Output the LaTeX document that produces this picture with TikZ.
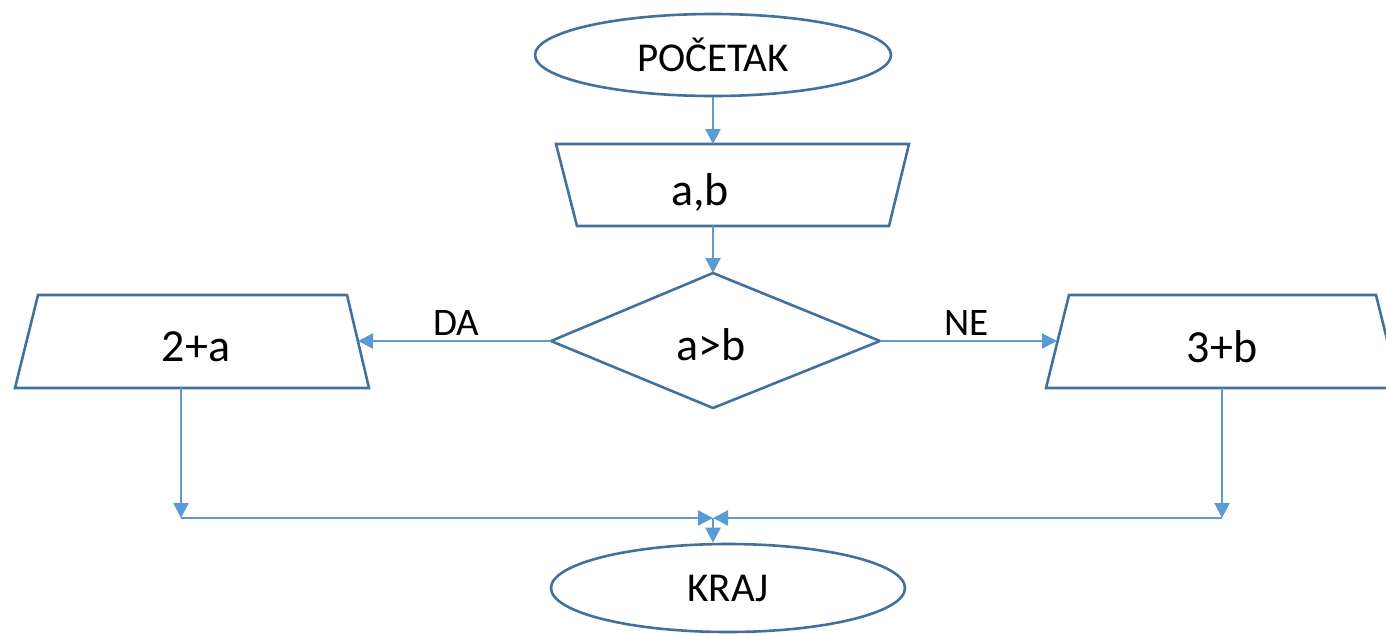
\documentclass[tikz,border=0pt]{standalone}
\usepackage{fontspec}
\setmainfont{Carlito}
\usetikzlibrary{shapes.geometric,arrows.meta}
\definecolor{shapeblue}{HTML}{41719C}
\definecolor{lineblue}{HTML}{5B9BD5}
\tikzset{
  shapeline/.style={draw=shapeblue, line width=2.6pt, line join=miter},
  arr/.style={draw=lineblue, line width=2.3pt, -{Triangle[length=15pt,width=15pt]}},
  termtxt/.style={inner sep=0pt, font=\fontsize{41}{48}\selectfont},
  bigtxt/.style={inner sep=0pt, font=\fontsize{46}{54}\selectfont},
  lbl/.style={inner sep=0pt, font=\fontsize{39}{46}\selectfont}
}
\begin{document}
\begin{tikzpicture}[x=1pt,y=-1pt]
\useasboundingbox (0,0) rectangle (1386,633);
% terminals
\node[ellipse, shapeline, minimum width=356pt, minimum height=82pt, termtxt] (start) at (713,55) {POČETAK};
\node[ellipse, shapeline, minimum width=354pt, minimum height=88pt, termtxt] (end) at (728,588) {KRAJ};
% input trapezium
\draw[shapeline] (556,144) -- (909,144) -- (889,226) -- (577,226) -- cycle;
\node[bigtxt] (ab) at (700,192) {a,b};
\coordinate (abIn) at (713,144);
\coordinate (abOut) at (713,226);
% decision
\draw[shapeline] (551,341) coordinate (dL) -- (713,273) coordinate (dT) -- (880,341) coordinate (dR) -- (713,408) -- cycle;
\node[bigtxt] (cond) at (711,345) {a>b};
% left output
\draw[shapeline] (38,295) -- (347,295) -- (369,388) -- (15,388) -- cycle;
\node[bigtxt] (la) at (196,347) {2+a};
\coordinate (laIn) at (358,341);
\coordinate (laOut) at (181,388);
% right output
\draw[shapeline] (1069,295) -- (1376,295) -- (1399,388) -- (1046,388) -- cycle;
\node[bigtxt] (rb) at (1222,347) {3+b};
\coordinate (rbIn) at (1057,341);
\coordinate (rbOut) at (1222,388);
% junction
\coordinate (lc) at (181,518);
\coordinate (rc) at (1222,518);
\coordinate (j) at (713,518);
% connectors
\draw[arr] (start.south) -- (abIn);
\draw[arr] (abOut) -- (dT);
\draw[arr] (dL) -- node[lbl, pos=0.49, above=4pt] (da) {DA} (laIn);
\draw[arr] (dR) -- node[lbl, pos=0.49, above=4pt] (ne) {NE} (rbIn);
\draw[arr] (laOut) -- (lc);
\draw[arr] (rbOut) -- (rc);
\draw[arr] (lc) -- (j);
\draw[arr] (rc) -- (j);
\draw[arr] (j) -- (end.north -| j);
\end{tikzpicture}
\end{document}
